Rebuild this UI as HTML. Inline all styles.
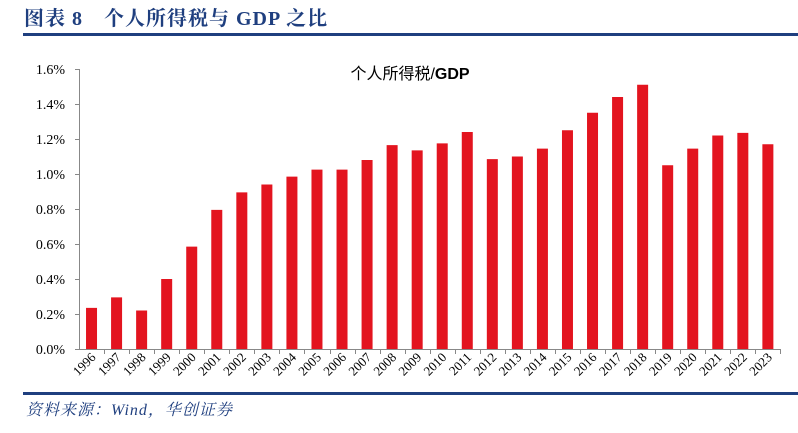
<!DOCTYPE html>
<html><head><meta charset="utf-8"><style>
body{margin:0;background:#fff;width:798px;height:428px;overflow:hidden}
</style></head><body>
<svg width="798" height="428" xmlns="http://www.w3.org/2000/svg">
<text x="24" y="25" font-family="Liberation Serif, Noto Serif CJK SC, serif" font-weight="bold" font-size="20" letter-spacing="1" fill="#1f3f7f">图表 8 <tspan x="104">个人所得税与 GDP 之比</tspan></text>
<rect x="23" y="33" width="775" height="3" fill="#1f3f7f"/>
<text x="410" y="79" text-anchor="middle" font-family="Liberation Sans, Noto Sans CJK SC, sans-serif" font-size="16" fill="#000">个人所得税/<tspan font-weight="bold">GDP</tspan></text>
<g font-family="Liberation Serif, serif" font-size="14" fill="#000" text-anchor="end">
<text x="65" y="354">0.0%</text><text x="65" y="319">0.2%</text><text x="65" y="284">0.4%</text><text x="65" y="249">0.6%</text><text x="65" y="214">0.8%</text><text x="65" y="179">1.0%</text><text x="65" y="144">1.2%</text><text x="65" y="109">1.4%</text><text x="65" y="74">1.6%</text>
</g>
<g stroke="#888" stroke-width="1">
<line x1="79.5" y1="69" x2="79.5" y2="349"/>
<line x1="75" y1="69.5" x2="79" y2="69.5"/><line x1="75" y1="104.5" x2="79" y2="104.5"/><line x1="75" y1="139.5" x2="79" y2="139.5"/><line x1="75" y1="174.5" x2="79" y2="174.5"/><line x1="75" y1="209.5" x2="79" y2="209.5"/><line x1="75" y1="244.5" x2="79" y2="244.5"/><line x1="75" y1="279.5" x2="79" y2="279.5"/><line x1="75" y1="314.5" x2="79" y2="314.5"/><line x1="75" y1="349.5" x2="780" y2="349.5"/>
</g>
<g id="bars" fill="#e3141f"></g>
<g id="ticks" stroke="#888"></g>
<g id="labs" font-family="Liberation Serif, serif" font-size="13" fill="#000"></g>
<rect x="23" y="392" width="775" height="3" fill="#1f3f7f"/>
<text x="26" y="415" font-family="Liberation Serif, Noto Serif CJK SC, serif" font-style="italic" font-size="16" letter-spacing="1" fill="#1f3f7f">资料来源：Wind，华创证券</text>
</svg>
<script>
var v=[0.235,0.295,0.22,0.40,0.585,0.795,0.895,0.94,0.985,1.025,1.025,1.08,1.165,1.135,1.175,1.24,1.085,1.10,1.145,1.25,1.35,1.44,1.51,1.05,1.145,1.22,1.235,1.17];
var ns="http://www.w3.org/2000/svg",b=document.getElementById('bars'),t=document.getElementById('ticks'),l=document.getElementById('labs');
var w=25.05;
v.forEach(function(x,i){
var c=79+w*(i+0.5),h=x*175;
var r=document.createElementNS(ns,'rect');r.setAttribute('x',c-5.5);r.setAttribute('y',349-h);r.setAttribute('width',11);r.setAttribute('height',h);b.appendChild(r);
var k=document.createElementNS(ns,'line');var tx=Math.round(79+w*(i+1))+0.5;k.setAttribute('x1',tx);k.setAttribute('x2',tx);k.setAttribute('y1',349);k.setAttribute('y2',354);t.appendChild(k);
var s=document.createElementNS(ns,'text');s.setAttribute('text-anchor','end');s.setAttribute('transform','translate('+(c+5)+',358) rotate(-45)');s.textContent=1996+i;l.appendChild(s);
});
</script>
</body></html>
